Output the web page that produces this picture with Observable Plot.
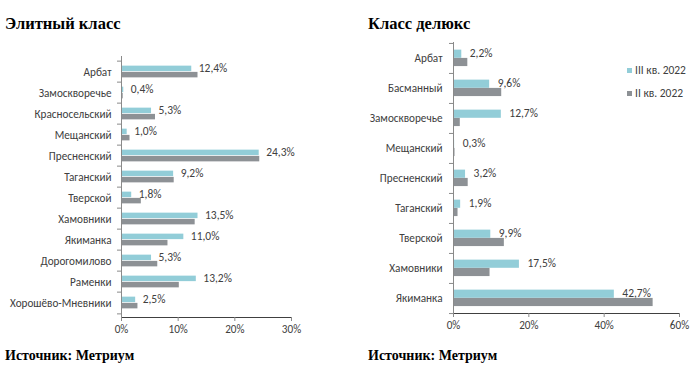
<!DOCTYPE html>
<html>
<head>
<meta charset="utf-8">
<script src="https://cdn.jsdelivr.net/npm/d3@7"></script>
<script src="https://cdn.jsdelivr.net/npm/@observablehq/plot@0.6"></script>
<style>
  body { margin: 0; background: #fff; }
  #wrap { position: relative; width: 690px; height: 370px; overflow: hidden; background: #fff; }
  .ttl { position: absolute; font-family: "Liberation Serif", "Times New Roman", serif; font-weight: bold; color: #000; white-space: nowrap; }
  .plot { position: absolute; top: 0; }
  .leg { position: absolute; font-family: Carlito, Lato, sans-serif; font-size: 11.5px; color: #404040; white-space: nowrap; display: flex; align-items: center; }
  .leg span.sw { display: inline-block; width: 5px; height: 5px; margin-right: 3px; }
</style>
</head>
<body>
<div id="wrap">
  <div class="ttl" style="left:5px; top:14px; font-size:16.5px; font-family:'Liberation Serif', serif;">Элитный класс</div>
  <div class="ttl" style="left:368px; top:14px; font-size:16.5px; font-family:'Liberation Serif', serif;">Класс делюкс</div>
  <div class="ttl" style="left:5px; top:348px; font-size:14px; font-family:'Liberation Serif', serif;">Источник: Метриум</div>
  <div class="ttl" style="left:368px; top:348px; font-size:14px; font-family:'Liberation Serif', serif;">Источник: Метриум</div>
  <div id="left" class="plot" style="left:0px;"></div>
  <div id="right" class="plot" style="left:330px;"></div>
  <div id="legend"></div>
</div>
<script>
// ---- data ----
const eliteDistricts = ["Арбат","Замоскворечье","Красносельский","Мещанский","Пресненский","Таганский","Тверской","Хамовники","Якиманка","Дорогомилово","Раменки","Хорошёво-Мневники"];
const eliteQ3 = [12.4, 0.4, 5.3, 1.0, 24.3, 9.2, 1.8, 13.5, 11.0, 5.3, 13.2, 2.5];
const eliteQ2 = [13.5, 0.3, 6.0, 1.5, 24.4, 9.3, 3.5, 13.0, 8.2, 6.4, 10.2, 2.9];

const deluxeDistricts = ["Арбат","Басманный","Замоскворечье","Мещанский","Пресненский","Таганский","Тверской","Хамовники","Якиманка"];
const deluxeQ3 = [2.2, 9.6, 12.7, 0.3, 3.2, 1.9, 9.9, 17.5, 42.7];
const deluxeQ2 = [3.8, 12.8, 1.8, 0.4, 3.9, 1.2, 13.5, 9.7, 53.0];

const seriesNames = ["III кв. 2022", "II кв. 2022"];
const eliteTicks = [0, 10, 20, 30];
const deluxeTicks = [0, 20, 40, 60];

const colors = ["#92cdd8", "#8d9195"];
const fontFamily = "Carlito, Lato, sans-serif";

function fmt(v) { return v.toFixed(1).replace(".", ",") + "%"; }

function makeChart(cats, q3, q2, ticks, cfg) {
  const rows3 = cats.map((c, i) => ({cat: c, v: q3[i]}));
  const rows2 = cats.map((c, i) => ({cat: c, v: q2[i]}));
  const step = (cfg.height - cfg.marginTop - cfg.marginBottom) / cats.length;
  const pad = step * cfg.padFrac;
  const bar = step * cfg.barFrac;
  const last = [cats[cats.length - 1]];
  return Plot.plot({
    width: cfg.width,
    height: cfg.height,
    marginLeft: cfg.marginLeft,
    marginRight: cfg.marginRight,
    marginTop: cfg.marginTop,
    marginBottom: cfg.marginBottom,
    style: {fontFamily, fontSize: "11.2px", color: "#404040", background: "transparent", overflow: "visible"},
    x: {domain: [ticks[0], ticks[ticks.length - 1]], ticks: ticks, tickFormat: d => d + "%", tickSize: 4, tickPadding: 4, line: true, label: null},
    y: {domain: cats, padding: 0, tickSize: 0, tickPadding: cfg.tickPadding, label: null},
    marks: [
      Plot.barX(rows3, {y: "cat", x: "v", fill: colors[0], insetTop: pad, insetBottom: step - pad - bar}),
      Plot.barX(rows2, {y: "cat", x: "v", fill: colors[1], insetTop: pad + bar, insetBottom: step - pad - 2 * bar}),
      Plot.ruleX([0], {stroke: "#8a8a8a"}),
      Plot.ruleY(cats, {y: d => d, x1: 0, x2: 0, insetLeft: -4, dy: -step / 2, stroke: "#8a8a8a"}),
      Plot.ruleY(last, {y: d => d, x1: 0, x2: 0, insetLeft: -4, dy: step / 2, stroke: "#8a8a8a"}),
      Plot.text(rows3, {y: "cat", x: "v", text: d => fmt(d.v), textAnchor: "start", dx: cfg.labelDx, dy: -step * 0.16, fill: "#404040", fontSize: 11.5})
    ]
  });
}

const left = makeChart(eliteDistricts, eliteQ3, eliteQ2, eliteTicks, {
  width: 312, height: 340, marginLeft: 121, marginRight: 21, marginTop: 56, marginBottom: 23,
  padFrac: 0.213, barFrac: 0.287, tickPadding: 10, labelDx: 7
});
const right = makeChart(deluxeDistricts, deluxeQ3, deluxeQ2, deluxeTicks, {
  width: 360, height: 340, marginLeft: 123, marginRight: 11, marginTop: 42, marginBottom: 27,
  padFrac: 0.22, barFrac: 0.275, tickPadding: 11, labelDx: 8
});
for (const svg of [left, right]) {
  svg.querySelectorAll("[aria-label='x-axis'] path, [aria-label='x-axis tick'] path, [aria-label='x-axis'] line").forEach(p => p.setAttribute("stroke", "#8a8a8a"));
}
document.getElementById("left").appendChild(left);
document.getElementById("right").appendChild(right);

const legend = document.getElementById("legend");
seriesNames.forEach((name, i) => {
  const d = document.createElement("div");
  d.className = "leg";
  d.style.left = "627px";
  d.style.top = (63 + i * 23) + "px";
  d.innerHTML = `<span class="sw" style="background:${colors[i]}"></span>${name}`;
  legend.appendChild(d);
});
</script>
</body>
</html>
